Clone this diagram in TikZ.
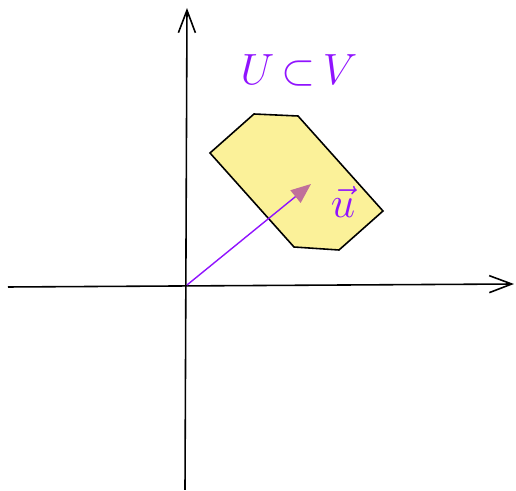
\documentclass[tikz,border=0pt]{standalone}
\usepackage{amsfonts, amsmath, amssymb}
\usetikzlibrary{arrows.meta}

\definecolor{vecpurple}{HTML}{9013FE}
\definecolor{setyellow}{HTML}{FBF199}
\definecolor{tippink}{HTML}{C0709A}

\begin{document}
\begin{tikzpicture}[scale=1, line width=0.9pt,
    axis/.style={-{Straight Barb[length=4.5mm, width=3.4mm]}}]
    \useasboundingbox (-3.74,-4.12) rectangle (6.58,5.70);

    % Axes
    \draw[axis] (-3.58,-0.04) -- (6.54,0.02);
    \draw[axis] (-0.04,-4.10) -- (0,5.54);

    % Subset U (yellow polygon)
    \draw[fill=setyellow] (0.46,2.64) -- (1.34,3.42) -- (2.22,3.38)
        -- (3.92,1.48) -- (3.04,0.70) -- (2.14,0.76) -- cycle;

    % Vector u
    \coordinate (O) at (0,0);
    \coordinate (u) at (2.48,2.02);
    \draw[vecpurple, line width=0.8pt,
        -{Triangle[length=4mm, width=3.2mm, color=tippink, fill=tippink]}] (O) -- (u);
    \node[vecpurple, font=\Huge] (ulabel) at (3.12,1.66) {$\vec{u}$};

    % Label
    \node[vecpurple, font=\Huge] (subset) at (2.24,4.30) {$U\,{\subset}\,V$};
\end{tikzpicture}
\end{document}
